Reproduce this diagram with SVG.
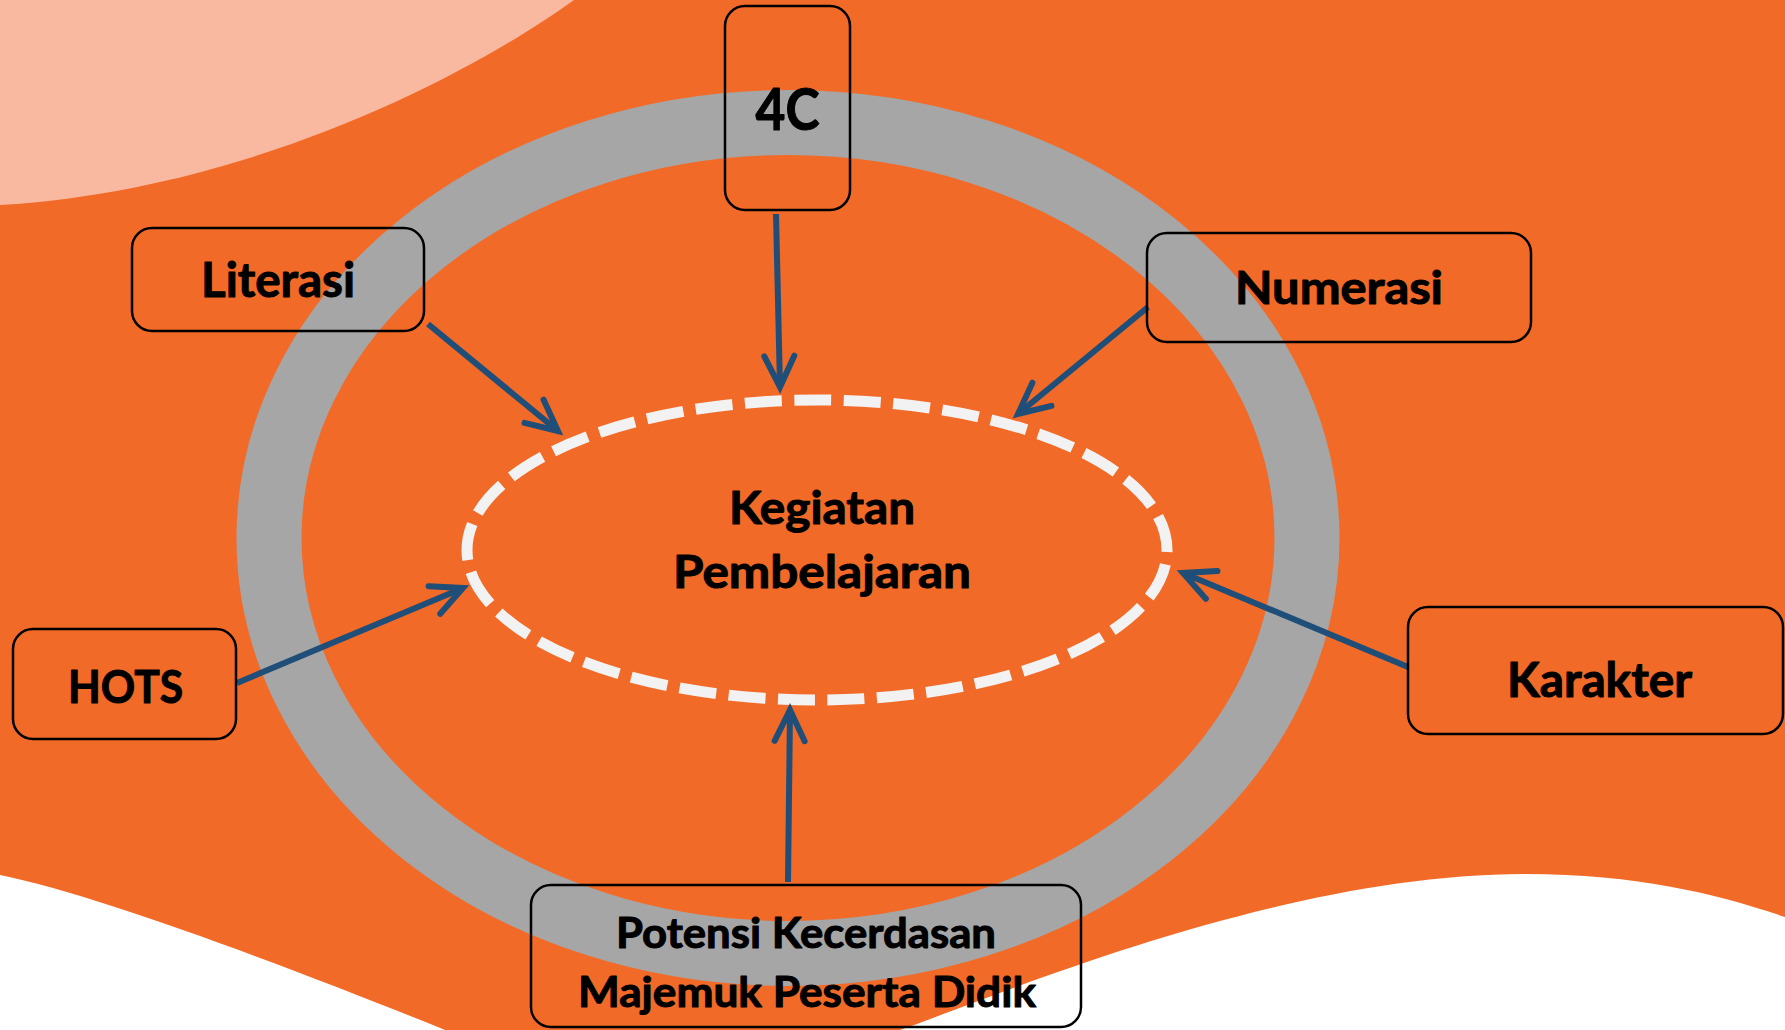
<svg xmlns="http://www.w3.org/2000/svg" width="1785" height="1030" viewBox="0 0 1785 1030">
  <style>
    .box { fill: none; stroke: #000000; stroke-width: 2.5; }
    .lbl { font-family: Lato, "Open Sans", "Liberation Sans", sans-serif; font-weight: 700; fill: #000000; stroke: #000000; stroke-width: 1; stroke-linejoin: round; text-anchor: middle; }
    .conn { fill: none; stroke: #1F4E79; stroke-width: 6; stroke-linecap: butt; marker-end: url(#ah); }
  </style>
  <defs>
    <marker id="ah" markerUnits="userSpaceOnUse" markerWidth="60" markerHeight="60" viewBox="-45 -30 60 60" refX="0" refY="0" orient="auto" overflow="visible">
      <path d="M-31,-15 L0,0 L-31,15" fill="none" stroke="#1F4E79" stroke-width="6" stroke-linecap="round" stroke-linejoin="miter"/>
    </marker>
  </defs>

  <g id="background">
    <rect x="0" y="0" width="1785" height="1030" fill="#F26A27"/>
    <path d="M0,0 L574,0 C470,75 250,190 0,205 Z" fill="#F8B9A0"/>
    <path d="M0,875 C100,895 310,975 445,1030 L900,1030 C1000,995 1280,874 1525,874 C1640,874 1720,895 1785,917 L1785,1030 L0,1030 Z" fill="#FFFFFF"/>
    <ellipse cx="788" cy="538" rx="519" ry="415.5" fill="none" stroke="#A6A6A6" stroke-width="65"/>
  </g>

  <g id="center">
    <ellipse cx="817" cy="550" rx="350" ry="150" fill="none" stroke="#F2F2F2" stroke-width="11" stroke-dasharray="37 12.5" stroke-dashoffset="35"/>
    <text class="lbl" x="822" y="524" font-size="45" textLength="186" lengthAdjust="spacingAndGlyphs">Kegiatan</text>
    <text class="lbl" x="822" y="588" font-size="45" textLength="298" lengthAdjust="spacingAndGlyphs">Pembelajaran</text>
  </g>

  <g id="connectors">
    <path class="conn" d="M776,214 L780,387"/>
    <path class="conn" d="M1148,307 L1018,414"/>
    <path class="conn" d="M428,324 L558,431"/>
    <path class="conn" d="M237,683 L463,588"/>
    <path class="conn" d="M1408,667 L1183,573"/>
    <path class="conn" d="M788,882 L790,710"/>
  </g>

  <g id="node-4c">
    <rect class="box" x="725" y="6" width="125" height="204" rx="20"/>
    <text class="lbl" x="787.5" y="130" font-size="57" textLength="64" lengthAdjust="spacingAndGlyphs">4C</text>
  </g>
  <g id="node-literasi">
    <rect class="box" x="132" y="228" width="292" height="103" rx="20"/>
    <text class="lbl" x="278" y="297" font-size="47" textLength="154" lengthAdjust="spacingAndGlyphs">Literasi</text>
  </g>
  <g id="node-numerasi">
    <rect class="box" x="1147" y="233" width="384" height="109" rx="20"/>
    <text class="lbl" x="1339" y="304" font-size="45" textLength="208" lengthAdjust="spacingAndGlyphs">Numerasi</text>
  </g>
  <g id="node-hots">
    <rect class="box" x="13" y="629" width="223" height="110" rx="20"/>
    <text class="lbl" x="125.5" y="703" font-size="46" textLength="115" lengthAdjust="spacingAndGlyphs">HOTS</text>
  </g>
  <g id="node-karakter">
    <rect class="box" x="1408" y="607" width="375" height="127" rx="20"/>
    <text class="lbl" x="1599.5" y="697" font-size="47" textLength="185" lengthAdjust="spacingAndGlyphs">Karakter</text>
  </g>
  <g id="node-potensi">
    <rect class="box" x="531" y="885" width="550" height="142" rx="20"/>
    <text class="lbl" x="806" y="948" font-size="42" textLength="380" lengthAdjust="spacingAndGlyphs">Potensi Kecerdasan</text>
    <text class="lbl" x="807" y="1007" font-size="42" textLength="458" lengthAdjust="spacingAndGlyphs">Majemuk Peserta Didik</text>
  </g>
</svg>
